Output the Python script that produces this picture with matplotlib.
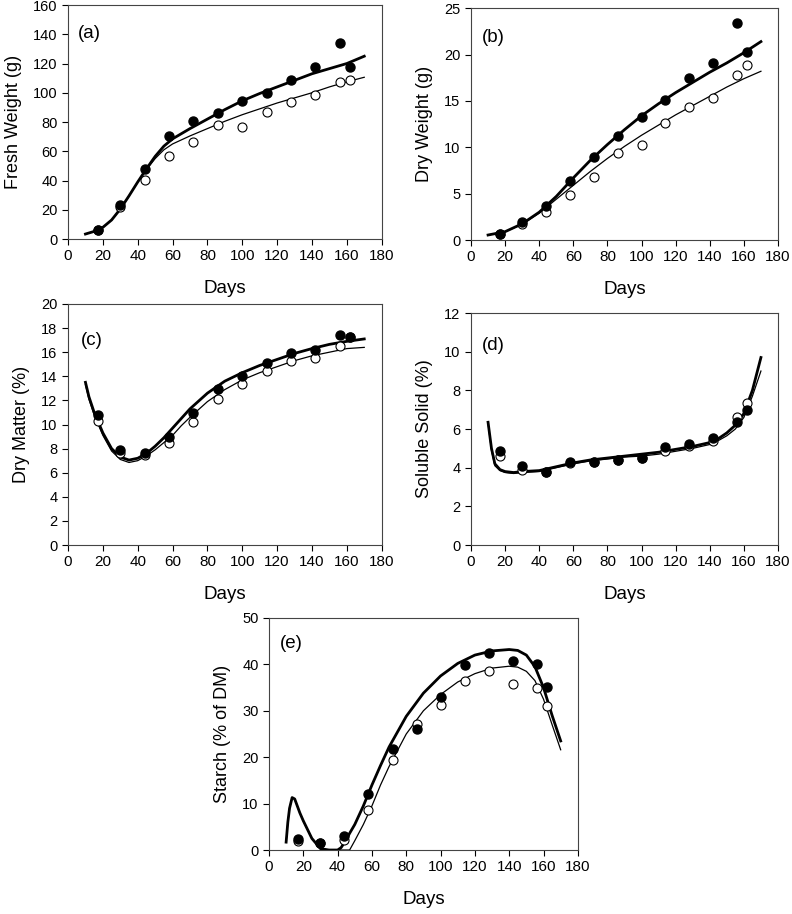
import matplotlib
matplotlib.use('Agg')
import matplotlib.pyplot as plt

plt.rcParams['font.family'] = ['Liberation Sans', 'DejaVu Sans']

# sampling days
days = [17, 30, 44, 58, 72, 86, 100, 114, 128, 142, 156, 162]

# (a) fresh weight
fw_fill = [6.2, 23, 47.6, 70.6, 81, 86.4, 94.3, 99.8, 109, 117.7, 134, 117.7]
fw_open = [6, 22, 40.5, 56.8, 66, 77.7, 76.3, 87, 93.6, 98.6, 107.4, 109]
fw_fit_x = [10, 15, 20, 25, 30, 35, 40, 45, 50, 55, 60, 70, 80, 90, 100, 110, 120, 130, 140, 150, 160, 170]
fw_fit_thick = [3.4, 5.2, 8, 13, 20.5, 29.5, 39, 48, 56.5, 63.5, 68.5, 75.5, 82, 88.5, 94.5, 99.5, 104, 108.5, 113, 116.5, 120, 125]
fw_fit_thin = [3.4, 5.2, 8, 13, 20.5, 29.5, 39, 47.5, 55, 61, 65, 70.5, 75.5, 80.5, 85, 89, 93, 96.5, 100, 104, 107.5, 110.6]

# (b) dry weight
dw_fill = [0.7, 1.9, 3.7, 6.4, 8.9, 11.2, 13.3, 15.1, 17.45, 19.1, 23.4, 20.25]
dw_open = [0.6, 1.7, 3.05, 4.9, 6.8, 9.4, 10.3, 12.6, 14.3, 15.3, 17.8, 18.9]
dw_fit_x = [10, 20, 30, 40, 50, 60, 70, 80, 90, 100, 110, 120, 130, 140, 150, 160, 170]
dw_fit_thick = [0.54, 0.9, 1.75, 3.0, 4.7, 6.7, 8.6, 10.3, 11.9, 13.4, 14.7, 15.9, 17.0, 18.1, 19.1, 20.2, 21.4]
dw_fit_thin = [0.54, 0.9, 1.7, 2.9, 4.4, 5.9, 7.4, 8.8, 10.1, 11.3, 12.4, 13.5, 14.5, 15.5, 16.5, 17.4, 18.2]

# (c) dry matter
dm_fill = [10.75, 7.85, 7.65, 9.0, 10.95, 12.95, 14.0, 15.1, 15.95, 16.2, 17.45, 17.25]
dm_open = [10.3, 7.65, 7.45, 8.5, 10.2, 12.15, 13.4, 14.4, 15.25, 15.5, 16.55, 17.3]
dm_fit_x = [10, 12, 15, 20, 25, 30, 35, 40, 45, 50, 55, 60, 65, 70, 80, 90, 100, 110, 120, 130, 140, 150, 160, 170]
dm_fit_thick = [13.5, 12.3, 11.0, 9.3, 8.0, 7.3, 7.05, 7.2, 7.6, 8.2, 8.9, 9.7, 10.5, 11.3, 12.6, 13.6, 14.3, 14.9, 15.4, 15.9, 16.3, 16.65, 16.9, 17.1]
dm_fit_thin = [13.3, 12.1, 10.8, 9.1, 7.8, 7.1, 6.85, 7.0, 7.4, 7.9, 8.5, 9.1, 9.9, 10.6, 11.9, 12.9, 13.7, 14.3, 14.8, 15.3, 15.7, 16.0, 16.3, 16.4]

# (d) soluble solid
ss_fill = [4.85, 4.1, 3.8, 4.3, 4.3, 4.4, 4.5, 5.05, 5.25, 5.55, 6.35, 7.0]
ss_open = [4.6, 3.9, 3.8, 4.25, 4.3, 4.4, 4.5, 4.85, 5.1, 5.4, 6.6, 7.35]
ss_fit_x = [10, 12, 14, 17, 20, 25, 30, 40, 50, 60, 70, 80, 90, 100, 110, 120, 130, 140, 145, 150, 155, 160, 165, 170]
ss_fit_thick = [6.35, 5.0, 4.2, 3.9, 3.8, 3.75, 3.8, 3.85, 4.05, 4.25, 4.4, 4.5, 4.6, 4.7, 4.8, 4.95, 5.1, 5.3, 5.5, 5.8, 6.2, 6.8, 8.0, 9.7]
ss_fit_thin = [6.3, 4.9, 4.1, 3.85, 3.75, 3.7, 3.75, 3.8, 4.0, 4.2, 4.35, 4.45, 4.55, 4.6, 4.7, 4.85, 5.0, 5.2, 5.4, 5.65, 6.0, 6.6, 7.7, 9.0]

# (e) starch
st_fill = [2.45, 1.6, 3.0, 12.1, 21.8, 26.0, 33.0, 39.9, 42.4, 40.8, 40.1, 35.1]
st_open = [2.0, 1.45, 2.2, 8.7, 19.3, 27.2, 31.3, 36.4, 38.6, 35.8, 35.0, 31.0]
st_fit_x = [10, 11, 12, 13.5, 15, 18, 20, 25, 30, 35, 40, 42, 45, 47, 50, 55, 60, 65, 70, 80, 90, 100, 110, 120, 130, 140, 145, 150, 155, 160, 165, 170]
st_fit_thick = [1.7, 6.0, 9.0, 11.3, 11.0, 8.0, 6.3, 2.5, 0.3, 0, 0, 0.5, 2.2, 3.6, 5.5, 9.5, 14, 18.2, 22.2, 28.8, 33.8, 37.5, 40.2, 42, 42.9, 43.2, 43, 42, 39.5, 35, 29, 23.5]
st_fit_thin = [1.7, 6.0, 9.0, 11.3, 11.0, 8.0, 6.3, 2.5, 0.3, 0, 0, 0, 0, 0, 2, 5.5, 9.5, 14, 18, 25, 30, 33.5, 36.2, 38, 39.2, 39.6, 39.4, 38.5, 36.5, 32.5, 27, 21.6]

panels = [
    ('(a)', 'Fresh Weight (g)', fw_fill, fw_open, fw_fit_x, fw_fit_thick, fw_fit_thin, 160, 20),
    ('(b)', 'Dry Weight (g)', dw_fill, dw_open, dw_fit_x, dw_fit_thick, dw_fit_thin, 25, 5),
    ('(c)', 'Dry Matter (%)', dm_fill, dm_open, dm_fit_x, dm_fit_thick, dm_fit_thin, 20, 2),
    ('(d)', 'Soluble Solid (%)', ss_fill, ss_open, ss_fit_x, ss_fit_thick, ss_fit_thin, 12, 2),
    ('(e)', 'Starch (% of DM)', st_fill, st_open, st_fit_x, st_fit_thick, st_fit_thin, 50, 10),
]

positions = [
    [0.0859, 0.7385, 0.396, 0.256],
    [0.5947, 0.7374, 0.3876, 0.2536],
    [0.0859, 0.4037, 0.396, 0.2637],
    [0.5947, 0.4037, 0.3876, 0.2538],
    [0.3396, 0.0700, 0.390, 0.2539],
]
tag_xy = [(0.03, 0.88), (0.036, 0.875), (0.04, 0.85), (0.036, 0.86), (0.036, 0.89)]

fig = plt.figure(figsize=(7.92, 9.14), dpi=100)

for pos, txy, (tag, ylab, yf, yo, fx, fthick, fthin, ymax, ystep) in zip(positions, tag_xy, panels):
    ax = fig.add_axes(pos)
    ax.plot(fx, fthin, color='black', lw=0.9, zorder=2)
    ax.plot(fx, fthick, color='black', lw=2.0, zorder=2)
    ax.plot(days, yo, 'o', ms=6.5, mfc='white', mec='black', mew=0.8, zorder=3)
    ax.plot(days, yf, 'o', ms=6.5, mfc='black', mec='black', zorder=4)
    ax.set_xlim(0, 180)
    ax.set_ylim(0, ymax)
    ax.set_xticks(range(0, 181, 20))
    ax.set_yticks([i * ystep for i in range(int(ymax / ystep) + 1)])
    ax.tick_params(direction='out', length=4, width=0.8, labelsize=10.5)
    ax.tick_params(axis='x', labelsize=11)
    for s in ax.spines.values():
        s.set_linewidth(0.8)
        s.set_color('#444444')
    ax.set_xlabel('Days', fontsize=13.5, labelpad=12)
    ax.set_ylabel(ylab, fontsize=13, labelpad=8)
    ax.text(txy[0], txy[1], tag, transform=ax.transAxes, fontsize=13.5, va='center')

fig.savefig('out.png', dpi=100)
